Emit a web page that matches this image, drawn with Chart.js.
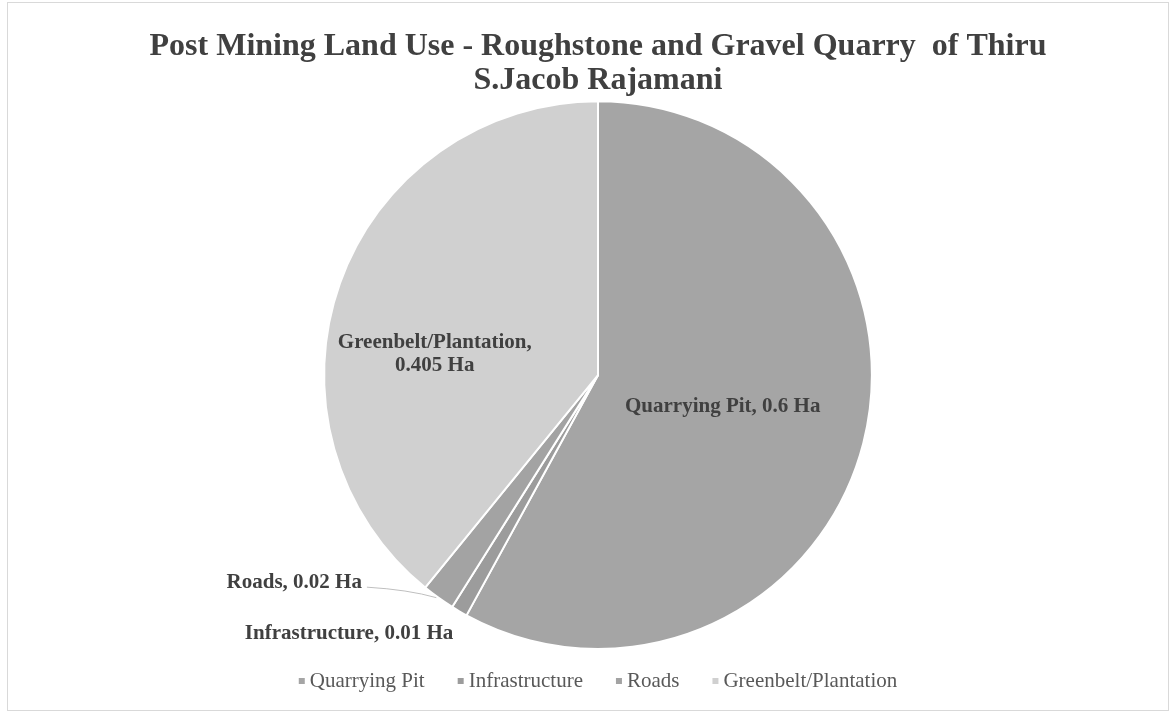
<!DOCTYPE html>
<html><head><meta charset="utf-8">
<script src="https://cdn.jsdelivr.net/npm/chart.js@4"></script>
<style>
html,body{margin:0;padding:0;background:#fff;}
#wrap{position:absolute;left:7px;top:2px;width:1162px;height:709px;border:1px solid #d9d9d9;box-sizing:border-box;background:#fff;}
canvas{display:block;}
</style></head><body>
<div id="wrap"><canvas id="c"></canvas></div>
<script>
const titleLines = ["Post Mining Land Use - Roughstone and Gravel Quarry  of Thiru", "S.Jacob Rajamani"];
const categories = ["Quarrying Pit", "Infrastructure", "Roads", "Greenbelt/Plantation"];
const values = [0.6, 0.01, 0.02, 0.405];
const unit = "Ha";
const colors = ["#a5a5a5", "#9c9c9c", "#a3a3a3", "#d0d0d0"];

const SERIF = '"Liberation Serif", "Times New Roman", serif';

const labelPlugin = {
  id: 'sliceLabels',
  afterDatasetsDraw(chart) {
    const ctx = chart.ctx;
    const meta = chart.getDatasetMeta(0);
    ctx.save();
    ctx.font = 'bold 21px ' + SERIF;
    ctx.fillStyle = '#404040';
    ctx.textAlign = 'center';
    ctx.textBaseline = 'middle';
    meta.data.forEach((arc, i) => {
      const r = arc.outerRadius, cx = arc.x, cy = arc.y;
      const mid = (arc.startAngle + arc.endAngle) / 2;
      const txt = categories[i] + ", " + values[i] + " " + unit;
      if (i === 0) {
        const d = 0.47 * r;
        ctx.fillText(txt, cx + d * Math.cos(mid), cy + d * Math.sin(mid));
      } else if (i === 3) {
        const lx = cx - 0.596 * r, ly = cy - 0.078 * r;
        ctx.fillText(categories[i] + ",", lx, ly - 11.5);
        ctx.fillText(values[i] + " " + unit, lx, ly + 11.5);
      } else if (i === 2) {
        const ex = cx + r * Math.cos(mid), ey = cy + r * Math.sin(mid);
        const lx = cx - 0.862 * r, ly = cy + 0.756 * r;
        ctx.textAlign = 'right';
        ctx.fillText(txt, lx, ly);
        ctx.strokeStyle = '#bfbfbf';
        ctx.lineWidth = 1;
        ctx.beginPath();
        ctx.moveTo(lx + 5, ly + 5);
        ctx.quadraticCurveTo(ex - 30, ey - 8, ex - 2, ey);
        ctx.stroke();
        ctx.textAlign = 'center';
      } else if (i === 1) {
        const lx = cx - 0.909 * r, ly = cy + 0.945 * r;
        ctx.fillText(txt, lx, ly);
      }
    });
    ctx.restore();
  }
};

const legendPlugin = {
  id: 'bottomLegend',
  afterDraw(chart) {
    const ctx = chart.ctx;
    ctx.save();
    ctx.font = '21px ' + SERIF;
    ctx.textBaseline = 'middle';
    ctx.textAlign = 'left';
    const box = 6, gapBoxText = 5, gapItems = 33;
    const widths = categories.map(c => box + gapBoxText + ctx.measureText(c).width);
    const total = widths.reduce((a, b) => a + b, 0) + gapItems * (categories.length - 1);
    const ca = chart.chartArea;
    let x = (ca.left + ca.right) / 2 - total / 2;
    const y = ca.bottom + 31;
    categories.forEach((c, i) => {
      ctx.fillStyle = colors[i];
      ctx.fillRect(x, y - box / 2, box, box);
      ctx.fillStyle = '#595959';
      ctx.fillText(c, x + box + gapBoxText, y);
      x += widths[i] + gapItems;
    });
    ctx.restore();
  }
};

new Chart(document.getElementById('c'), {
  type: 'pie',
  data: {
    labels: categories,
    datasets: [{
      data: values,
      backgroundColor: colors,
      borderColor: '#ffffff',
      borderWidth: 2
    }]
  },
  options: {
    responsive: true,
    maintainAspectRatio: false,
    animation: false,
    layout: { padding: { top: 0, bottom: 60, left: 20, right: 0 } },
    plugins: {
      title: {
        display: true,
        text: titleLines,
        color: '#404040',
        font: { family: SERIF, size: 32, weight: 'bold', lineHeight: 1.05 },
        padding: { top: 27, bottom: 3 }
      },
      legend: { display: false },
      tooltip: { enabled: false }
    }
  },
  plugins: [labelPlugin, legendPlugin]
});
</script>
</body></html>
